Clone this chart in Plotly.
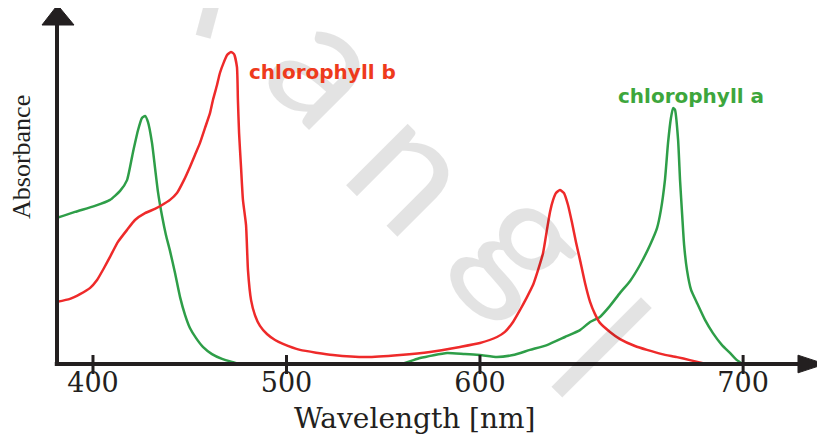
import plotly.graph_objects as go

# ---- data (wavelength in nm, relative absorbance) ----
chl_a_wavelength = [381.4, 390.7, 401.0, 408.8, 414.0, 417.6, 420.7, 423.3, 425.3, 426.9, 428.4, 430.5,
                    432.0, 433.6, 435.7, 437.7, 439.8, 442.4, 445.0, 447.6, 450.1, 453.2, 456.8, 461.5,
                    466.7, 471.8, 476.0, 558.7, 569.0, 583.0, 592.2, 600.0, 608.8, 617.1, 625.8, 634.6,
                    643.9, 651.7, 656.9, 662.0, 667.1, 672.4, 677.6, 682.7, 687.9, 691.5, 693.5, 695.6,
                    697.2, 698.7, 699.8, 700.8, 702.4, 703.4, 704.5, 705.5, 707.0, 709.1, 712.2, 716.3,
                    720.4, 725.1, 729.2, 732.8, 735.9]
chl_a_absorbance = [0.487, 0.507, 0.527, 0.547, 0.577, 0.613, 0.707, 0.780, 0.820, 0.827, 0.807, 0.737,
                    0.657, 0.573, 0.493, 0.430, 0.377, 0.303, 0.223, 0.163, 0.120, 0.087, 0.057, 0.033,
                    0.017, 0.007, 0.0, 0.0, 0.020, 0.037, 0.033, 0.030, 0.023, 0.030, 0.047, 0.063,
                    0.090, 0.113, 0.140, 0.157, 0.193, 0.237, 0.277, 0.330, 0.397, 0.453, 0.513, 0.613,
                    0.737, 0.820, 0.853, 0.847, 0.747, 0.613, 0.497, 0.397, 0.313, 0.247, 0.203, 0.147,
                    0.103, 0.063, 0.037, 0.013, 0.0]

chl_b_wavelength = [381.4, 388.1, 393.3, 398.4, 402.1, 405.7, 408.8, 412.9, 417.6, 421.7, 426.9, 432.0,
                    435.7, 439.8, 443.4, 447.0, 450.1, 452.7, 455.3, 457.9, 460.5, 462.0, 464.1, 465.6,
                    467.7, 469.3, 471.3, 472.9, 474.4, 474.9, 475.5, 476.5, 477.5, 479.1, 480.1, 481.7,
                    483.7, 486.3, 489.9, 494.1, 498.2, 507.0, 524.0, 541.6, 558.7, 574.2, 589.7, 600.0,
                    608.8, 612.9, 617.1, 620.7, 624.3, 627.4, 630.0, 632.6, 634.6, 636.2, 637.8, 639.3,
                    641.3, 643.4, 645.5, 647.5, 649.6, 651.7, 654.3, 656.9, 659.4, 662.0, 667.2, 672.4,
                    680.1, 686.3, 694.1, 701.8, 708.5, 715.2]
chl_b_absorbance = [0.207, 0.217, 0.233, 0.253, 0.280, 0.320, 0.357, 0.407, 0.447, 0.480, 0.503, 0.517,
                    0.530, 0.547, 0.570, 0.613, 0.657, 0.697, 0.737, 0.787, 0.837, 0.880, 0.930, 0.970,
                    1.007, 1.030, 1.040, 1.033, 0.990, 0.880, 0.770, 0.657, 0.547, 0.463, 0.313, 0.213,
                    0.163, 0.127, 0.100, 0.080, 0.067, 0.047, 0.030, 0.023, 0.030, 0.040, 0.057, 0.070,
                    0.090, 0.107, 0.140, 0.180, 0.223, 0.263, 0.313, 0.370, 0.447, 0.507, 0.547, 0.570,
                    0.580, 0.570, 0.530, 0.473, 0.407, 0.347, 0.270, 0.207, 0.167, 0.137, 0.107, 0.083,
                    0.060, 0.047, 0.033, 0.023, 0.013, 0.003]

tick_values = [400, 500, 600, 736]
tick_labels = ["400", "500", "600", "700"]

RED = "#ee2a2a"
GREEN = "#2e9e48"
AXIS = "#231f20"

fig = go.Figure()
fig.add_trace(go.Scatter(x=chl_a_wavelength, y=chl_a_absorbance, mode="lines",
                         line=dict(color=GREEN, width=2.5, shape="spline", smoothing=0.5),
                         name="chlorophyll a", showlegend=False, hoverinfo="skip"))
fig.add_trace(go.Scatter(x=chl_b_wavelength, y=chl_b_absorbance, mode="lines",
                         line=dict(color=RED, width=2.5, shape="spline", smoothing=0.5),
                         name="chlorophyll b", showlegend=False, hoverinfo="skip"))

shapes = [
    dict(type="line", xref="paper", yref="paper", x0=0, x1=0, y0=-0.006, y1=1.0,
         line=dict(color=AXIS, width=4), layer="above"),
    dict(type="line", xref="paper", yref="paper", x0=-0.003, x1=0.998, y0=0, y1=0,
         line=dict(color=AXIS, width=4), layer="above"),
    dict(type="path", xref="paper", yref="paper",
         path="M -0.0202,1.0 L 0.0007,1.059 L 0.0229,1.0 Z",
         fillcolor=AXIS, line=dict(color=AXIS, width=1), layer="above"),
    dict(type="path", xref="paper", yref="paper",
         path="M 0.9973,0.026 L 1.0336,0 L 0.9973,-0.026 Z",
         fillcolor=AXIS, line=dict(color=AXIS, width=1), layer="above"),
]
for tv in tick_values:
    shapes.append(dict(type="line", xref="x", yref="paper", x0=tv, x1=tv, y0=-0.0295, y1=0.0265,
                       line=dict(color=AXIS, width=3), layer="above"))

wm_font = dict(family="Lato", size=172, color="rgba(0,0,0,0.11)")
annotations = []
for ch, xp, yp, ang in [("l", 0.2194, 1.1534, 15), ("a", 0.3720, 0.8950, 45), ("n", 0.4859, 0.59, 45),
                        ("g", 0.6447, 0.3775, 45), ("l", 0.7362, 0.0531, 45)]:
    annotations.append(dict(text=ch, xref="paper", yref="paper", x=xp, y=yp, showarrow=False,
                            textangle=ang, font=wm_font, xanchor="center", yanchor="middle"))

annotations += [
    dict(text="Absorbance", xref="paper", yref="paper", x=-0.0485, y=0.6106, showarrow=False,
         textangle=-90, font=dict(family="Liberation Serif", size=26, color=AXIS),
         xanchor="center", yanchor="middle"),
    dict(text="Wavelength [nm]", xref="paper", yref="paper", x=0.4818, y=-0.1622, showarrow=False,
         font=dict(family="DejaVu Serif", size=28, color=AXIS), xanchor="center", yanchor="middle"),
    dict(text="chlorophyll b", xref="paper", yref="paper", x=0.2557, y=0.8614, showarrow=False,
         font=dict(family="DejaVu Sans", size=20, color="#ee3a1c", weight="bold"),
         xanchor="left", yanchor="middle"),
    dict(text="chlorophyll a", xref="paper", yref="paper", x=0.7524, y=0.7906, showarrow=False,
         font=dict(family="DejaVu Sans", size=20, color="#3da63c", weight="bold"),
         xanchor="left", yanchor="middle"),
]

# The page adds an 8px body margin, so the figure is 8px smaller on each axis
fig.update_layout(
    width=817, height=427, autosize=False,
    margin=dict(l=49, r=25, t=17, b=71),
    paper_bgcolor="white", plot_bgcolor="white",
    shapes=shapes, annotations=annotations,
    xaxis=dict(range=[381.4, 765.4], tickvals=tick_values, ticktext=tick_labels,
               showgrid=False, zeroline=False, showline=False, ticks="",
               tickfont=dict(family="DejaVu Serif", size=27, color=AXIS), fixedrange=True),
    yaxis=dict(range=[0, 1.13], showgrid=False, zeroline=False, showline=False,
               showticklabels=False, ticks="", fixedrange=True),
)

fig.write_html("out.html")
